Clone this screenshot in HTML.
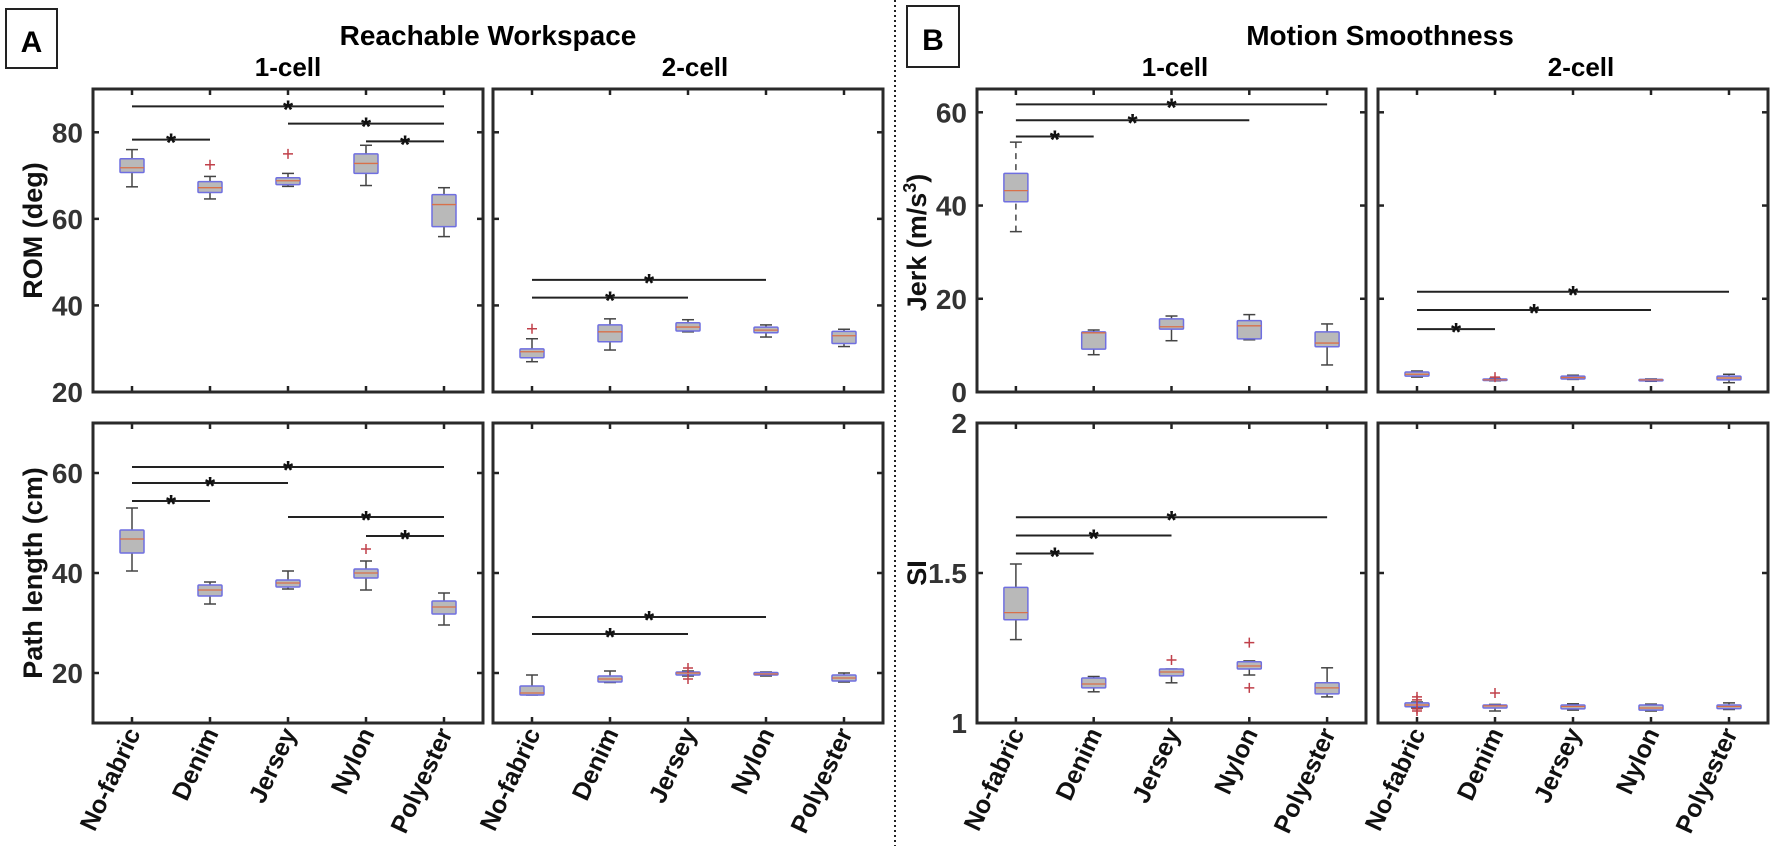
<!DOCTYPE html>
<html><head><meta charset="utf-8">
<style>
html,body{margin:0;padding:0;background:#fff;}
svg{display:block;font-family:"Liberation Sans",sans-serif;}
</style></head>
<body>
<svg id="fig" width="1772" height="846" viewBox="0 0 1772 846" xmlns="http://www.w3.org/2000/svg">
  <line x1="895" y1="0" x2="895" y2="846" stroke="#222" stroke-width="2" stroke-dasharray="2,3"/>
  <rect x="6" y="9" width="51" height="59" fill="none" stroke="#222" stroke-width="2"/>
  <text x="31.5" y="52" font-size="30" font-weight="bold" text-anchor="middle">A</text>
  <rect x="907" y="6" width="52" height="61" fill="none" stroke="#222" stroke-width="2"/>
  <text x="933" y="50" font-size="30" font-weight="bold" text-anchor="middle">B</text>
  <text x="488" y="45" font-size="28" font-weight="bold" text-anchor="middle">Reachable Workspace</text>
  <text x="1380" y="45" font-size="28" font-weight="bold" text-anchor="middle">Motion Smoothness</text>
  <text x="288" y="76" font-size="26" font-weight="bold" text-anchor="middle">1-cell</text>
  <text x="695" y="76" font-size="26" font-weight="bold" text-anchor="middle">2-cell</text>
  <text x="1175" y="76" font-size="26" font-weight="bold" text-anchor="middle">1-cell</text>
  <text x="1581" y="76" font-size="26" font-weight="bold" text-anchor="middle">2-cell</text>
</svg>
<script>
const categories = ["No-fabric","Denim","Jersey","Nylon","Polyester"];

// ROM 1-cell
const rom1Low = [67.4,64.6,67.5,67.7,55.9];
const rom1Q1 = [70.7,66.1,67.9,70.5,58.2];
const rom1Med = [71.8,67.2,68.8,72.8,63.3];
const rom1Q3 = [73.9,68.6,69.5,75.0,65.6];
const rom1High = [76.0,69.8,70.5,77.0,67.2];
const rom1Out = [[],[72.5],[75.0],[],[]];
const rom1Sig = [[1,5,86],[3,5,82],[1,2,78.3],[4,5,77.9]];
// ROM 2-cell
const rom2Low = [27.0,29.7,33.9,32.7,30.5];
const rom2Q1 = [27.9,31.6,34.1,33.7,31.2];
const rom2Med = [29.3,33.9,35.0,34.3,33.0];
const rom2Q3 = [29.95,35.5,36.0,35.0,34.0];
const rom2High = [32.3,36.9,36.7,35.5,34.5];
const rom2Out = [[34.6],[],[],[],[]];
const rom2Sig = [[1,4,45.9],[1,3,41.8]];
// Path length 1-cell
const path1Low = [40.4,33.8,36.8,36.6,29.6];
const path1Q1 = [44.0,35.4,37.2,39.0,31.8];
const path1Med = [46.8,36.6,38.0,40.0,33.2];
const path1Q3 = [48.6,37.6,38.6,40.8,34.4];
const path1High = [53.0,38.2,40.4,42.4,36.0];
const path1Out = [[],[],[],[44.8],[]];
const path1Sig = [[1,5,61.2],[1,3,58.0],[1,2,54.4],[3,5,51.2],[4,5,47.4]];
// Path length 2-cell
const path2Low = [15.6,18.1,19.4,19.4,18.2];
const path2Q1 = [15.6,18.2,19.6,19.6,18.4];
const path2Med = [16.0,18.8,20.0,19.8,19.0];
const path2Q3 = [17.4,19.4,20.2,20.1,19.6];
const path2High = [19.6,20.4,20.4,20.2,20.0];
const path2Out = [[],[],[21.0,18.8],[],[]];
const path2Sig = [[1,4,31.2],[1,3,27.8]];
// Jerk 1-cell
const jerk1Low = [34.4,8.0,11.0,11.2,5.8];
const jerk1Q1 = [40.8,9.2,13.5,11.4,9.7];
const jerk1Med = [43.2,12.7,14.0,14.2,10.5];
const jerk1Q3 = [46.9,12.9,15.7,15.3,12.9];
const jerk1High = [53.6,13.3,16.3,16.6,14.6];
const jerk1Out = [[],[],[],[],[]];
const jerk1Sig = [[1,5,61.7],[1,4,58.3],[1,2,54.8]];
// Jerk 2-cell
const jerk2Low = [3.2,2.4,2.7,2.3,2.0];
const jerk2Q1 = [3.4,2.5,2.8,2.4,2.6];
const jerk2Med = [3.8,2.6,3.1,2.6,3.0];
const jerk2Q3 = [4.3,2.8,3.4,2.7,3.4];
const jerk2High = [4.5,2.9,3.6,2.8,3.8];
const jerk2Out = [[],[3.2],[],[],[]];
const jerk2Sig = [[1,5,21.5],[1,4,17.6],[1,2,13.5]];
// SI 1-cell
const si1Low = [1.278,1.104,1.134,1.16,1.087];
const si1Q1 = [1.344,1.117,1.157,1.18,1.097];
const si1Med = [1.368,1.13,1.17,1.19,1.117];
const si1Q3 = [1.452,1.15,1.18,1.204,1.134];
const si1High = [1.53,1.155,1.18,1.207,1.184];
const si1Out = [[],[],[1.21],[1.268,1.117],[]];
const si1Sig = [[1,5,1.686],[1,3,1.625],[1,2,1.565]];
// SI 2-cell
const si2Low = [1.05,1.04,1.043,1.04,1.045];
const si2Q1 = [1.054,1.05,1.047,1.043,1.048];
const si2Med = [1.06,1.057,1.055,1.05,1.055];
const si2Q3 = [1.067,1.06,1.06,1.06,1.06];
const si2High = [1.07,1.062,1.064,1.063,1.067];
const si2Out = [[1.087,1.077,1.047,1.04],[1.1],[],[],[]];
const si2Sig = [];

const NS = "http://www.w3.org/2000/svg";
const svg = document.getElementById("fig");
function mk(tag, attrs, parent){
  const e = document.createElementNS(NS, tag);
  for (const k in attrs) e.setAttribute(k, attrs[k]);
  (parent||svg).appendChild(e);
  return e;
}

function drawPanel(p){
  const g = mk("g", {});
  
  
  const W = p.x1 - p.x0, H = p.y1 - p.y0;
  const xs = i => p.x0 + (i + 0.5) * W / categories.length;
  const ys = v => p.y1 - (v - p.ymin) / (p.ymax - p.ymin) * H;
  // ticks
  p.ticks.forEach(t => {
    const y = ys(t);
    const tl = mk("line", {x1:p.x0, x2:p.x0+6, y1:y, y2:y, stroke:"#222", "stroke-width":2.5}, g);
    
    
    const tr = mk("line", {x1:p.x1-6, x2:p.x1, y1:y, y2:y, stroke:"#222", "stroke-width":2.5}, g);
    
    
    if (p.labels) {
      const lab = mk("text", {x:p.x0-10, y:y+10, "font-size":28, "font-weight":"bold", "text-anchor":"end", fill:"#333"}, g);
      lab.textContent = p.fmt ? p.fmt(t) : String(t);
      
      
    }
  });
  categories.forEach((c, i) => {
    const x = xs(i);
    const tb = mk("line", {x1:x, x2:x, y1:p.y1, y2:p.y1-6, stroke:"#222", "stroke-width":2.5}, g);
    
    
    const tt = mk("line", {x1:x, x2:x, y1:p.y0, y2:p.y0+6, stroke:"#222", "stroke-width":2.5}, g);
    
    
    if (p.xlabels) {
      const lab = mk("text", {x:0, y:0, "font-size":25, "font-weight":"bold", "text-anchor":"end", fill:"#111",
        transform:`translate(${x+9},${p.y1+10}) rotate(-65)`}, g);
      lab.textContent = c;
      
      
    }
  });
  // boxes
  const d = p.data;
  categories.forEach((c, i) => {
    const x = xs(i), hw = 12, cw = 6;
    const bg = mk("g", {}, g);
    
    
    const dash = p.dashed && i === 0 ? "6,5" : "none";
    mk("line", {x1:x, x2:x, y1:ys(d.high[i]), y2:ys(d.q3[i]), stroke:"#444", "stroke-width":1.5, "stroke-dasharray":dash}, bg);
    mk("line", {x1:x, x2:x, y1:ys(d.low[i]), y2:ys(d.q1[i]), stroke:"#444", "stroke-width":1.5, "stroke-dasharray":dash}, bg);
    mk("line", {x1:x-cw, x2:x+cw, y1:ys(d.high[i]), y2:ys(d.high[i]), stroke:"#444", "stroke-width":1.5}, bg);
    mk("line", {x1:x-cw, x2:x+cw, y1:ys(d.low[i]), y2:ys(d.low[i]), stroke:"#444", "stroke-width":1.5}, bg);
    const top = ys(d.q3[i]), bot = ys(d.q1[i]);
    mk("rect", {x:x-hw, y:top, width:2*hw, height:Math.max(bot-top,1.5), fill:"#b9b9b9", stroke:"#6f6fe0", "stroke-width":1.5, rx:1}, bg);
    mk("line", {x1:x-hw, x2:x+hw, y1:ys(d.med[i]), y2:ys(d.med[i]), stroke:"#d8704a", "stroke-width":1.3}, bg);
    d.out[i].forEach(v => {
      const y = ys(v);
      const o = mk("path", {d:`M${x-5},${y}H${x+5}M${x},${y-5}V${y+5}`, stroke:"#c0404a", "stroke-width":1.5, fill:"none"}, bg);
      
      
    });
  });
  // significance
  d.sig.forEach(s => {
    const y = ys(s[2]);
    const xa = xs(s[0]-1), xb = xs(s[1]-1);
    const l = mk("line", {x1:xa, x2:xb, y1:y, y2:y, stroke:"#222", "stroke-width":2}, g);
    
    
    const st = mk("text", {x:(xa+xb)/2, y:y+12, "font-size":26, "font-weight":"bold", "text-anchor":"middle", fill:"#111"}, g);
    st.textContent = "*";
    
    
  });
  const fr = mk("rect", {x:p.x0, y:p.y0, width:W, height:H, fill:"none", stroke:"#2a2a2a", "stroke-width":3}, g);
  
  
  if (p.ylabel) {
    const yl = mk("text", {x:0, y:0, "font-size":27, "font-weight":"bold", "text-anchor":"middle", fill:"#111",
      transform:`translate(${p.ylx},${(p.y0+p.y1)/2 + (p.yoff||0)}) rotate(-90)`}, g);
    yl.innerHTML = p.ylabel;
    
    
  }
}

const T = [89, 392], B = [423, 723];
drawPanel({name:"rom-1cell-panel", x0:93, x1:483, y0:T[0], y1:T[1], ymin:20, ymax:90, ticks:[20,40,60,80], labels:true,
  ylabel:"ROM (deg)", ylx:42, yoff:-10,
  data:{low:rom1Low,q1:rom1Q1,med:rom1Med,q3:rom1Q3,high:rom1High,out:rom1Out,sig:rom1Sig}});
drawPanel({name:"rom-2cell-panel", x0:493, x1:883, y0:T[0], y1:T[1], ymin:20, ymax:90, ticks:[20,40,60,80],
  data:{low:rom2Low,q1:rom2Q1,med:rom2Med,q3:rom2Q3,high:rom2High,out:rom2Out,sig:rom2Sig}});
drawPanel({name:"path-1cell-panel", x0:93, x1:483, y0:B[0], y1:B[1], ymin:10, ymax:70, ticks:[20,40,60], labels:true, xlabels:true,
  ylabel:"Path length (cm)", ylx:42,
  data:{low:path1Low,q1:path1Q1,med:path1Med,q3:path1Q3,high:path1High,out:path1Out,sig:path1Sig}});
drawPanel({name:"path-2cell-panel", x0:493, x1:883, y0:B[0], y1:B[1], ymin:10, ymax:70, ticks:[20,40,60], xlabels:true,
  data:{low:path2Low,q1:path2Q1,med:path2Med,q3:path2Q3,high:path2High,out:path2Out,sig:path2Sig}});
drawPanel({name:"jerk-1cell-panel", x0:977, x1:1366, y0:T[0], y1:T[1], ymin:0, ymax:65, ticks:[0,20,40,60], labels:true, dashed:true,
  ylabel:'Jerk (m/s<tspan baseline-shift="super" font-size="18">3</tspan>)', ylx:926, yoff:2,
  data:{low:jerk1Low,q1:jerk1Q1,med:jerk1Med,q3:jerk1Q3,high:jerk1High,out:jerk1Out,sig:jerk1Sig}});
drawPanel({name:"jerk-2cell-panel", x0:1378, x1:1768, y0:T[0], y1:T[1], ymin:0, ymax:65, ticks:[0,20,40,60],
  data:{low:jerk2Low,q1:jerk2Q1,med:jerk2Med,q3:jerk2Q3,high:jerk2High,out:jerk2Out,sig:jerk2Sig}});
drawPanel({name:"si-1cell-panel", x0:977, x1:1366, y0:B[0], y1:B[1], ymin:1, ymax:2, ticks:[1,1.5,2], labels:true, xlabels:true,
  fmt: t => String(t), ylabel:"SI", ylx:926,
  data:{low:si1Low,q1:si1Q1,med:si1Med,q3:si1Q3,high:si1High,out:si1Out,sig:si1Sig}});
drawPanel({name:"si-2cell-panel", x0:1378, x1:1768, y0:B[0], y1:B[1], ymin:1, ymax:2, ticks:[1,1.5,2], xlabels:true,
  data:{low:si2Low,q1:si2Q1,med:si2Med,q3:si2Q3,high:si2High,out:si2Out,sig:si2Sig}});
</script>
</body></html>
